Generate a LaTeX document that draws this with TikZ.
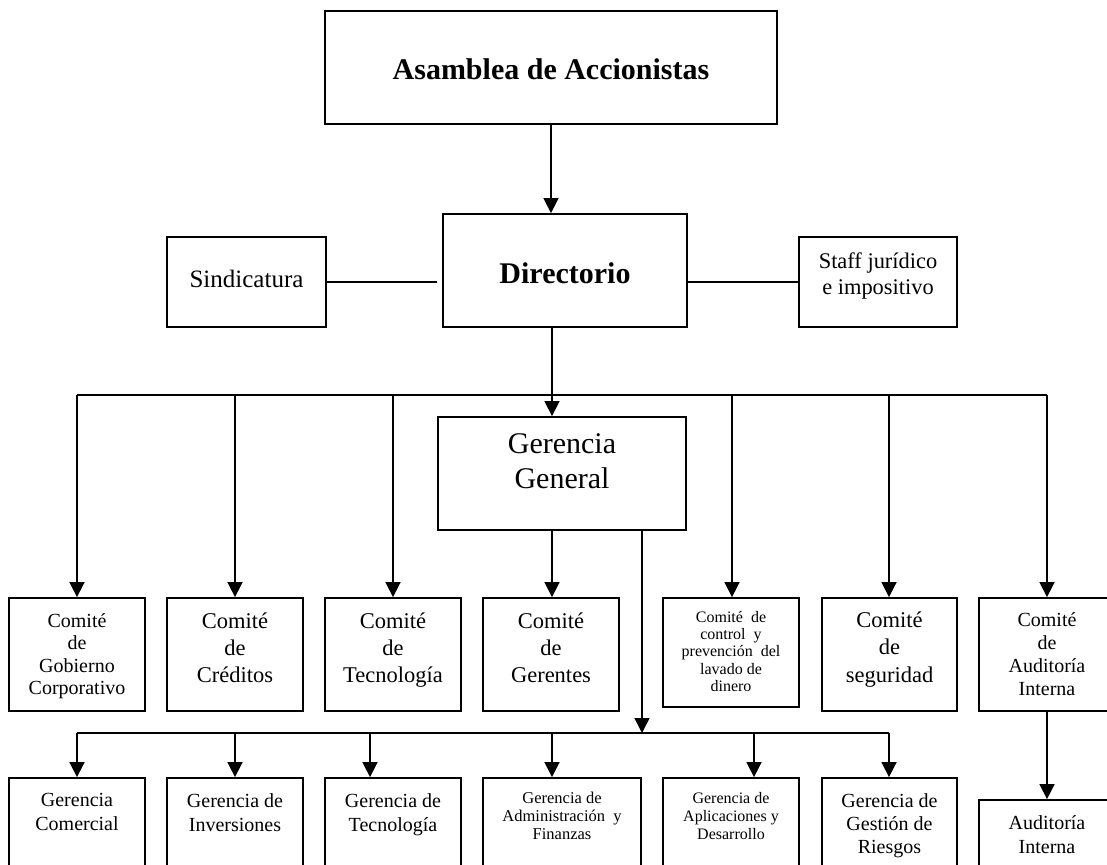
\documentclass[tikz,border=0pt]{standalone}
\usepackage{fontspec}
\setmainfont{Liberation Serif}
\usetikzlibrary{arrows.meta}
\newcommand\fsz[2]{\fontsize{#1}{#2}\selectfont}
\begin{document}
\begin{tikzpicture}[x=1pt,y=-1pt,
  boxst/.style={draw, line width=1.8pt, rectangle, inner sep=0pt},
  txt/.style={inner sep=0pt, align=center},
  ln/.style={line width=1.6pt},
  arr/.style={line width=1.6pt, -{Triangle[width=15pt 0 0,length=15pt 0 0]}}]
\useasboundingbox[fill=white] (0,0) rectangle (1107,864);
\clip (0,0) rectangle (1107,864);
% top
\node[boxst, minimum width=452pt, minimum height=113pt] (asamblea) at (551,67.5) {};
\node[txt, anchor=base, font=\fsz{30}{34}\bfseries] (tasamblea) at (551,80) {Asamblea de Accionistas};
\node[boxst, minimum width=244pt, minimum height=113pt] (directorio) at (565,270.5) {};
\node[txt, anchor=base, font=\fsz{30}{34}\bfseries] (tdirectorio) at (565,283) {Directorio};
\node[boxst, minimum width=159pt, minimum height=90pt] (sind) at (246.5,282) {};
\node[txt, anchor=base, font=\fsz{25}{29}] (tsind) at (246.5,287) {Sindicatura};
\node[boxst, minimum width=158pt, minimum height=90pt] (staff) at (878,282) {};
\node[txt, anchor=north, font=\fsz{22.4}{25.5}] (tstaff) at (878,252.7) {Staff jurídico\\e impositivo};
\node[boxst, minimum width=248pt, minimum height=113pt] (gg) at (562,473.5) {};
\node[txt, anchor=north, font=\fsz{30}{35}] (tgg) at (562,433.5) {Gerencia\\General};
% comites
\node[boxst, minimum width=136pt, minimum height=113pt] (c1) at (77,654.5) {};
\node[txt, anchor=north, font=\fsz{20}{22.5}] (tc1) at (77,613.3) {Comité\\de\\Gobierno\\Corporativo};
\node[boxst, minimum width=136pt, minimum height=113pt] (c2) at (235,654.5) {};
\node[txt, anchor=north, font=\fsz{22.5}{27}] (tc2) at (235,612.6) {Comité\\de\\Créditos};
\node[boxst, minimum width=136pt, minimum height=113pt] (c3) at (393,654.5) {};
\node[txt, anchor=north, font=\fsz{22.5}{27}] (tc3) at (393,612.6) {Comité\\de\\Tecnología};
\node[boxst, minimum width=136pt, minimum height=113pt] (c4) at (551,654.5) {};
\node[txt, anchor=north, font=\fsz{22.5}{27}] (tc4) at (551,612.6) {Comité\\de\\Gerentes};
\node[boxst, minimum width=136pt, minimum height=109pt] (c5) at (731,652.5) {};
\node[txt, anchor=north, font=\fsz{16}{17.3}] (tc5) at (731,611) {Comité \ de\\control \ y\\prevención \ del\\lavado de\\dinero};
\node[boxst, minimum width=135pt, minimum height=113pt] (c6) at (889.5,654.5) {};
\node[txt, anchor=north, font=\fsz{22.5}{27.5}] (tc6) at (889.5,611.6) {Comité\\de\\seguridad};
\node[boxst, minimum width=136pt, minimum height=113pt] (c7) at (1047,654.5) {};
\node[txt, anchor=north, font=\fsz{20}{23}] (tc7) at (1047,612.3) {Comité\\de\\Auditoría\\Interna};
% gerencias
\node[boxst, minimum width=136pt, minimum height=112pt] (g1) at (77,834) {};
\node[txt, anchor=north, font=\fsz{20}{24}] (tg1) at (77,793.3) {Gerencia\\Comercial};
\node[boxst, minimum width=136pt, minimum height=112pt] (g2) at (235,834) {};
\node[txt, anchor=north, font=\fsz{20}{24}] (tg2) at (235,793.3) {Gerencia de\\Inversiones};
\node[boxst, minimum width=136pt, minimum height=112pt] (g3) at (393,834) {};
\node[txt, anchor=north, font=\fsz{20}{24}] (tg3) at (393,793.3) {Gerencia de\\Tecnología};
\node[boxst, minimum width=158pt, minimum height=112pt] (g4) at (562,834) {};
\node[txt, anchor=north, font=\fsz{16.5}{18}] (tg4) at (562,791.7) {Gerencia de\\Administración \ y\\Finanzas};
\node[boxst, minimum width=136pt, minimum height=112pt] (g5) at (731,834) {};
\node[txt, anchor=north, font=\fsz{16}{18}] (tg5) at (731,792) {Gerencia de\\Aplicaciones y\\Desarrollo};
\node[boxst, minimum width=135pt, minimum height=112pt] (g6) at (889.5,834) {};
\node[txt, anchor=north, font=\fsz{20}{23}] (tg6) at (889.5,793.3) {Gerencia de\\Gestión de\\Riesgos};
\node[boxst, minimum width=136pt, minimum height=90pt] (aud) at (1047,845) {};
\node[txt, anchor=north, font=\fsz{20}{24}] (taud) at (1047,815.3) {Auditoría\\Interna};
% connectors top
\draw[arr] (asamblea.south) -- (asamblea.south |- directorio.north);
\draw[ln, shorten >=5pt] (sind.east) -- (sind.east -| directorio.west);
\draw[ln] (directorio.east |- staff.west) -- (staff.west);
% upper bus
\coordinate (j0) at (552,395);
\coordinate (b1) at (77,395);
\coordinate (b2) at (235,395);
\coordinate (b3) at (393,395);
\coordinate (b5) at (732,395);
\coordinate (b6) at (889,395);
\coordinate (b7) at (1047,395);
\draw[ln] (b1) -- (b7);
\draw[arr] (j0 |- directorio.south) -- (j0 |- gg.north);
\draw[arr] (b1) -- (b1 |- c1.north);
\draw[arr] (b2) -- (b2 |- c2.north);
\draw[arr] (b3) -- (b3 |- c3.north);
\draw[arr] (b5) -- (b5 |- c5.north);
\draw[arr] (b6) -- (b6 |- c6.north);
\draw[arr] (b7) -- (b7 |- c7.north);
\draw[arr] (j0 |- gg.south) -- (j0 |- c4.north);
% lower bus
\coordinate (k0) at (642,733);
\coordinate (d1) at (77,733);
\coordinate (d2) at (235,733);
\coordinate (d3) at (370,733);
\coordinate (d4) at (552,733);
\coordinate (d5) at (754,733);
\coordinate (d6) at (889,733);
\draw[ln] (d1) -- (d6);
\draw[arr] (k0 |- gg.south) -- (k0);
\draw[arr] (d1) -- (d1 |- g1.north);
\draw[arr] (d2) -- (d2 |- g2.north);
\draw[arr] (d3) -- (d3 |- g3.north);
\draw[arr] (d4) -- (d4 |- g4.north);
\draw[arr] (d5) -- (d5 |- g5.north);
\draw[arr] (d6) -- (d6 |- g6.north);
\draw[arr] (c7.south) -- (aud.north);
\end{tikzpicture}
\end{document}
